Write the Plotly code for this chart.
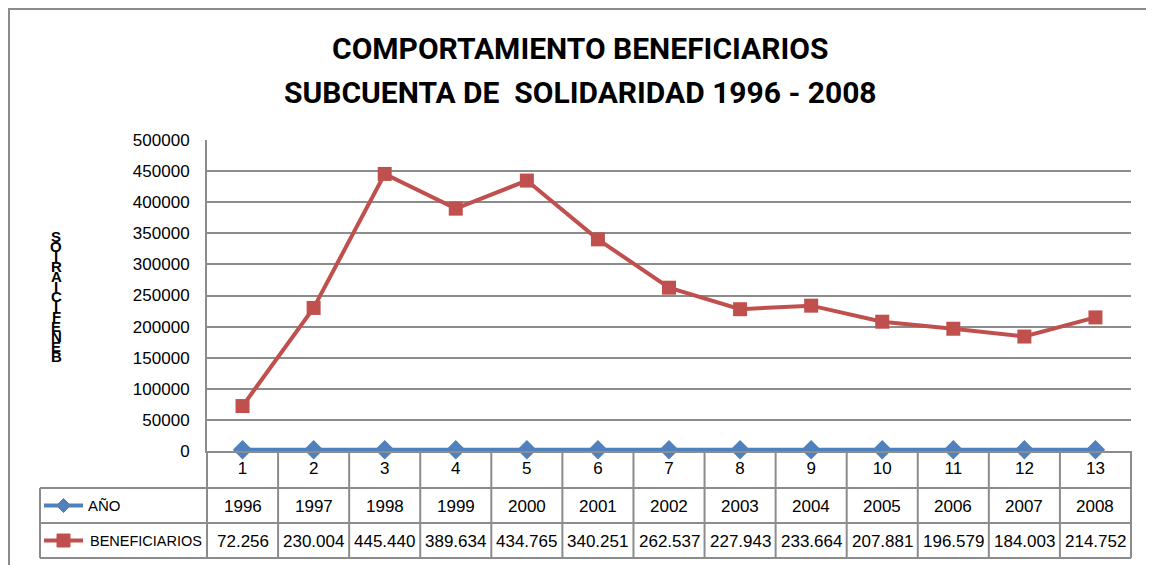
import plotly.graph_objects as go

# ---- data ----
categories = list(range(1, 14))
anos = [1996, 1997, 1998, 1999, 2000, 2001, 2002, 2003, 2004, 2005, 2006, 2007, 2008]
beneficiarios = [72256, 230004, 445440, 389634, 434765, 340251, 262537,
                 227943, 233664, 207881, 196579, 184003, 214752]
y_ticks = list(range(0, 500001, 50000))

title_1 = "COMPORTAMIENTO BENEFICIARIOS"
title_2 = "SUBCUENTA DE  SOLIDARIDAD 1996 - 2008"
y_title = "BENEFICIARIOS"

# ---- layout geometry (screen pixels; page body has an 8px margin) ----
OFF = 8
W, H = 1154 - OFF, 565 - OFF
L, R, T, B = 207, 1131, 140, 451          # plot area in screen pixels
PW, PH = R - L, B - T

def px(x):
    return (x - L) / PW

def py(y):
    return (B - y) / PH

BLUE = "#4F81BD"
RED = "#C0504D"
GRID = "#8c8c8c"
FONT = "Liberation Sans"
TFONT = "Roboto"

xs = list(range(len(categories)))

fig = go.Figure()
fig.add_trace(go.Scatter(
    x=xs, y=anos, mode="lines+markers", name="AÑO",
    line=dict(color=BLUE, width=4),
    marker=dict(symbol="diamond", size=15, color=BLUE),
    cliponaxis=False))
fig.add_trace(go.Scatter(
    x=xs, y=beneficiarios, mode="lines+markers", name="BENEFICIARIOS",
    line=dict(color=RED, width=4),
    marker=dict(symbol="square", size=14, color=RED),
    cliponaxis=False))

shapes = []
line_style = dict(color=GRID, width=2)
n = len(categories)
row_top = 488
row_mid = 523
row_bot = 558
x_leg = 40

# vertical lines of the data table at category boundaries
for i in range(n + 1):
    xp = i / n
    shapes.append(dict(type="line", xref="paper", yref="paper",
                       x0=xp, x1=xp, y0=py(B), y1=py(row_bot), line=line_style))
# legend column left edge
shapes.append(dict(type="line", xref="paper", yref="paper",
                   x0=px(x_leg), x1=px(x_leg), y0=py(row_top), y1=py(row_bot), line=line_style))
# horizontal table lines
for yy in (row_top, row_mid, row_bot):
    shapes.append(dict(type="line", xref="paper", yref="paper",
                       x0=px(x_leg), x1=1, y0=py(yy), y1=py(yy), line=line_style))
# outer chart border
shapes.append(dict(type="rect", xref="paper", yref="paper",
                   x0=px(9), x1=px(1151), y0=py(9), y1=py(600),
                   line=dict(color=GRID, width=2), layer="below"))

# legend keys inside the table
r1 = (row_top + row_mid) / 2
r2 = (row_mid + row_bot) / 2
kx0, kx1 = 44, 83
kc = (kx0 + kx1) / 2
shapes.append(dict(type="line", xref="paper", yref="paper",
                   x0=px(kx0), x1=px(kx1), y0=py(r1), y1=py(r1),
                   line=dict(color=BLUE, width=4)))
d = 7
shapes.append(dict(type="path", xref="paper", yref="paper",
                   path=f"M {px(kc)},{py(r1 - d)} L {px(kc + d)},{py(r1)} L {px(kc)},{py(r1 + d)} L {px(kc - d)},{py(r1)} Z",
                   fillcolor=BLUE, line=dict(color=BLUE, width=1)))
shapes.append(dict(type="line", xref="paper", yref="paper",
                   x0=px(kx0), x1=px(kx1), y0=py(r2), y1=py(r2),
                   line=dict(color=RED, width=4)))
s = 6.5
shapes.append(dict(type="rect", xref="paper", yref="paper",
                   x0=px(kc - s), x1=px(kc + s), y0=py(r2 - s), y1=py(r2 + s),
                   fillcolor=RED, line=dict(color=RED, width=1)))

annotations = []

def fmt(v):
    return f"{v:,}".replace(",", ".")

def ann(x, y, text, size, family=FONT, xanchor="center"):
    annotations.append(dict(x=x, y=y, xref="paper", yref="paper", text=text,
                            showarrow=False, xanchor=xanchor, yanchor="middle",
                            font=dict(family=family, size=size, color="black")))

# table values
for i in range(n):
    ann((i + 0.5) / n, py(r1 + 1), str(anos[i]), 17)
    ann((i + 0.5) / n, py(r2 + 1), fmt(beneficiarios[i]), 17)
# legend labels
ann(px(86), py(r1), "AÑO", 15, xanchor="left")
ann(px(88), py(r2), "BENEFICIARIOS", 14.5, xanchor="left")
# title
ann(px(580), py(48), f"<b>{title_1}</b>", 30, family=TFONT)
ann(px(580), py(93), f"<b>{title_2}</b>", 30, family=TFONT)
# stacked vertical axis title (letters reversed, top to bottom)
letters = list(reversed(y_title))
top_c, bot_c = 236, 356
step = (bot_c - top_c) / (len(letters) - 1)
for k, ch in enumerate(letters):
    ann(px(56), py(top_c + k * step), f"<b>{ch}</b>", 15)

fig.update_layout(
    width=W, height=H,
    margin=dict(l=L - OFF, r=W - (R - OFF), t=T - OFF, b=H - (B - OFF), pad=0),
    paper_bgcolor="white", plot_bgcolor="white",
    showlegend=False,
    shapes=shapes, annotations=annotations,
    xaxis=dict(range=[-0.5, n - 0.5], tickvals=xs, ticktext=[str(c) for c in categories],
               showgrid=False, zeroline=False, showline=True, linecolor=GRID, linewidth=2,
               ticks="", ticklabelstandoff=1,
               tickfont=dict(family=FONT, size=17, color="black")),
    yaxis=dict(range=[0, 500000], tickvals=y_ticks, tickformat="d",
               showgrid=True, gridcolor=GRID, gridwidth=2, zeroline=False,
               showline=True, linecolor=GRID, linewidth=2,
               ticks="", ticklabelstandoff=12,
               tickfont=dict(family=FONT, size=17, color="black")),
    font=dict(family=FONT),
)

fig.write_html("out.html")
